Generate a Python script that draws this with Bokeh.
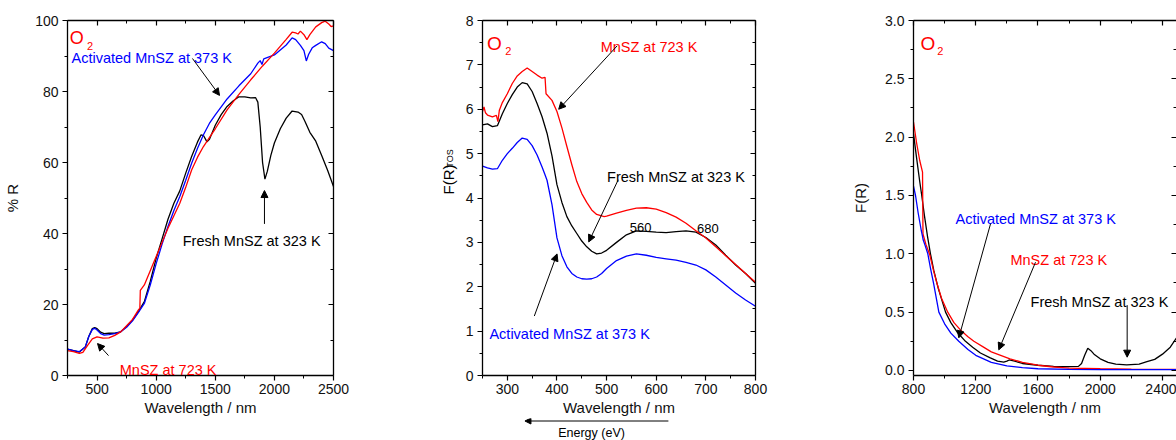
import math
from bokeh.plotting import figure
from bokeh.layouts import row, column
from bokeh.models import (LinearAxis, Range1d, FixedTicker, NumeralTickFormatter,
                          CustomJSTickFormatter, Label, Arrow, NormalHead)
from bokeh.embed import file_html
from bokeh.resources import INLINE

FONT = "Liberation Sans"
RED = "#ff0000"
BLUE = "#0000ff"
BLACK = "#000000"

# ---------------- Panel 1 : %R vs wavelength (250-2500 nm) ----------------
p1_fresh_nm = [250, 300, 350, 400, 430, 460, 480, 500, 530, 560, 600, 650, 700, 750, 800, 850, 900,
               950, 1000, 1050, 1100, 1150, 1200, 1250, 1300, 1350, 1380, 1400, 1430, 1450, 1500,
               1550, 1600, 1650, 1700, 1750, 1800, 1840, 1860, 1880, 1900, 1920, 1940, 1970, 2000,
               2050, 2100, 2150, 2200, 2230, 2260, 2300, 2350, 2400, 2450, 2500]
p1_fresh_R = [7.4, 7.0, 6.6, 8.0, 11.0, 13.2, 13.5, 13.2, 12.2, 11.8, 11.9, 11.9, 12.3, 13.8, 15.6,
              18.0, 20.8, 26.5, 33.0, 38.5, 44.0, 48.5, 52.0, 57.0, 61.7, 65.8, 67.8, 67.6, 65.8,
              66.5, 70.5, 73.5, 75.8, 77.3, 78.5, 78.5, 78.2, 78.3, 77.0, 70.0, 60.0, 55.3, 57.5,
              62.0, 65.5, 69.5, 72.5, 74.5, 74.2, 73.5, 71.5, 68.5, 66.0, 62.0, 57.8, 53.2]

p1_act_nm = [250, 300, 350, 400, 430, 460, 480, 500, 530, 560, 600, 650, 700, 750, 800, 850, 900,
             950, 1000, 1050, 1100, 1150, 1200, 1250, 1300, 1350, 1400, 1450, 1500, 1600, 1700,
             1800, 1860, 1880, 1895, 1910, 2000, 2100, 2150, 2180, 2220, 2250, 2270, 2290, 2320,
             2350, 2400, 2430, 2460, 2500]
p1_act_R = [7.4, 7.0, 6.7, 8.0, 11.0, 13.0, 13.3, 12.8, 11.8, 11.4, 11.5, 11.8, 12.3, 13.6, 15.4,
            17.8, 20.3, 25.5, 31.5, 37.0, 42.0, 46.5, 50.4, 55.0, 59.8, 64.0, 67.8, 71.0, 73.4,
            77.9, 81.6, 85.0, 88.0, 88.7, 87.6, 89.2, 90.3, 93.1, 95.1, 94.6, 93.0, 91.5, 88.6,
            90.5, 92.3, 93.0, 94.0, 93.5, 92.2, 91.5]

p1_hot_nm = [250, 300, 350, 380, 420, 460, 500, 550, 600, 650, 700, 750, 800, 850, 862, 866, 900,
             950, 1000, 1050, 1100, 1150, 1200, 1250, 1300, 1350, 1400, 1450, 1500, 1600, 1700,
             1800, 1900, 2000, 2100, 2150, 2180, 2200, 2220, 2250, 2275, 2300, 2350, 2400, 2430,
             2460, 2480, 2500]
p1_hot_R = [7.0, 6.7, 6.2, 6.5, 8.5, 10.3, 10.9, 10.5, 10.6, 11.3, 12.3, 14.0, 15.8, 18.5, 19.0,
            24.0, 25.5, 29.5, 33.5, 37.5, 41.5, 45.0, 48.5, 53.0, 57.9, 61.5, 64.5, 67.0, 69.5,
            74.8, 79.2, 83.3, 87.2, 90.8, 94.7, 96.7, 96.5, 96.2, 97.0, 96.0, 94.6, 96.0, 98.2,
            99.4, 99.8, 99.0, 98.3, 98.5]

# ---------------- Panel 2 : F(R)TOS vs wavelength (250-800 nm) ----------------
p2_fresh_nm = [250, 260, 270, 280, 290, 300, 310, 320, 330, 340, 350, 360, 370, 380, 390, 400, 410,
               420, 430, 440, 450, 460, 470, 480, 490, 500, 520, 540, 560, 580, 600, 620, 640, 660,
               680, 700, 720, 740, 760, 780, 800]
p2_fresh_F = [5.65, 5.67, 5.61, 5.63, 5.9, 6.13, 6.33, 6.5, 6.6, 6.57, 6.4, 6.13, 5.83, 5.46, 4.95,
              4.3, 3.9, 3.58, 3.37, 3.2, 3.03, 2.9, 2.8, 2.74, 2.76, 2.82, 3.0, 3.17, 3.26, 3.25,
              3.23, 3.22, 3.24, 3.26, 3.23, 3.11, 2.94, 2.71, 2.49, 2.3, 2.08]

p2_hot_nm = [250, 253, 256, 260, 270, 278, 281, 284, 290, 300, 310, 320, 330, 340, 350, 360, 370,
             376, 378, 390, 400, 410, 420, 430, 440, 450, 460, 470, 480, 495, 500, 520, 540, 560,
             580, 600, 620, 640, 660, 680, 700, 720, 740, 760, 780, 800]
p2_hot_F = [5.95, 6.05, 5.92, 5.87, 5.83, 5.86, 5.72, 5.98, 6.15, 6.35, 6.58, 6.75, 6.85, 6.93,
            6.85, 6.77, 6.7, 6.72, 6.35, 6.2, 5.95, 5.58, 5.16, 4.75, 4.37, 4.1, 3.9, 3.73, 3.63,
            3.58, 3.59, 3.66, 3.72, 3.77, 3.78, 3.75, 3.67, 3.57, 3.43, 3.26, 3.1, 2.9, 2.7, 2.5,
            2.3, 2.1]

p2_act_nm = [250, 260, 270, 280, 290, 300, 310, 320, 330, 340, 350, 360, 370, 375, 380, 390, 400,
             410, 420, 430, 440, 450, 460, 470, 480, 490, 500, 520, 540, 560, 580, 600, 620, 640,
             660, 680, 700, 720, 740, 760, 780, 800]
p2_act_F = [4.72, 4.68, 4.65, 4.66, 4.85, 5.0, 5.12, 5.25, 5.35, 5.32, 5.18, 4.97, 4.7, 4.55, 4.4,
            3.85, 3.1, 2.7, 2.45, 2.3, 2.22, 2.18, 2.17, 2.18, 2.22, 2.3, 2.41, 2.59, 2.69, 2.74,
            2.71, 2.66, 2.63, 2.6, 2.55, 2.49, 2.38, 2.22, 2.04, 1.86, 1.7, 1.56]

# ---------------- Panel 3 : F(R) vs wavelength (800-2500 nm) ----------------
p3_fresh_nm = [800, 820, 840, 853, 870, 890, 909, 930, 960, 1006, 1040, 1080, 1134, 1180, 1230,
               1290, 1340, 1380, 1400, 1415, 1450, 1500, 1600, 1700, 1800, 1860, 1880, 1900, 1920,
               1940, 1960, 2000, 2050, 2100, 2170, 2250, 2300, 2350, 2400, 2450, 2500]
p3_fresh_F = [2.03, 1.82, 1.62, 1.5, 1.33, 1.15, 1.0, 0.86, 0.7, 0.5, 0.41, 0.33, 0.25, 0.2, 0.15,
              0.11, 0.08, 0.072, 0.08, 0.09, 0.08, 0.06, 0.045, 0.035, 0.033, 0.035, 0.06, 0.13,
              0.19, 0.17, 0.14, 0.1, 0.07, 0.055, 0.048, 0.055, 0.075, 0.095, 0.14, 0.2, 0.3]

p3_hot_nm = [800, 820, 840, 858, 861, 880, 905, 930, 950, 980, 1020, 1060, 1100, 1150, 1188, 1250,
             1300, 1360, 1420, 1500, 1600, 1700, 1800, 2000, 2200, 2500]
p3_hot_F = [2.13, 1.95, 1.8, 1.70, 1.17, 1.08, 0.99, 0.85, 0.75, 0.62, 0.5, 0.41, 0.35, 0.29, 0.25,
            0.2, 0.16, 0.13, 0.1, 0.07, 0.045, 0.03, 0.02, 0.015, 0.012, 0.01]

p3_act_nm = [800, 813, 830, 850, 858, 862, 875, 892, 910, 930, 963, 1000, 1040, 1091, 1150, 1200,
             1250, 1300, 1400, 1500, 1600, 1800, 2000, 2500]
p3_act_F = [1.58, 1.5, 1.35, 1.2, 1.15, 1.12, 1.07, 1.0, 0.87, 0.74, 0.5, 0.4, 0.32, 0.25, 0.18,
            0.13, 0.1, 0.07, 0.04, 0.025, 0.015, 0.01, 0.008, 0.008]

# tick labels / positions
p1_xticks = [500, 1000, 1500, 2000, 2500]
p1_yticks = [0, 20, 40, 60, 80, 100]
p2_xticks = [300, 400, 500, 600, 700, 800]
p2_yticks = [0, 1, 2, 3, 4, 5, 6, 7, 8]
p3_xticks = [800, 1200, 1600, 2000, 2400]
p3_yticks = [0.0, 0.5, 1.0, 1.5, 2.0, 2.5, 3.0]

LABEL_FRESH = "Fresh MnSZ at 323 K"
LABEL_ACT = "Activated MnSZ at 373 K"
LABEL_HOT = "MnSZ at 723 K"


def minor_between(ticks, step, lo, hi):
    out = []
    k = math.ceil(lo / step - 1e-9)
    v = k * step
    while v <= hi + 1e-9:
        if all(abs(v - t) > 1e-9 for t in ticks):
            out.append(round(v, 6))
        k += 1
        v = k * step
    return out


def make_panel(width, height, left, right, bottom, xr, yr, xt, xstep, yt, ystep, yfmt, ylabel,
               ystandoff, right_line=True):
    p = figure(width=width, height=height, x_range=Range1d(*xr), y_range=Range1d(*yr),
               output_backend="svg", toolbar_location=None,
               min_border_left=left, min_border_right=right, min_border_top=20,
               min_border_bottom=bottom, outline_line_color=None,
               background_fill_color="white", border_fill_color="white")
    p.xgrid.visible = False
    p.ygrid.visible = False
    xtick = FixedTicker(ticks=xt, minor_ticks=minor_between(xt, xstep, xr[0], xr[1]))
    ytick = FixedTicker(ticks=yt, minor_ticks=minor_between(yt, ystep, yr[0], yr[1]))
    for ax in p.xaxis:
        ax.ticker = xtick
        ax.axis_label = "Wavelength / nm"
        ax.axis_label_standoff = 2
        ax.major_label_standoff = 3
    for ax in p.yaxis:
        ax.ticker = ytick
        ax.axis_label = ylabel
        ax.axis_label_standoff = ystandoff
        ax.major_label_standoff = 4
        if yfmt:
            ax.formatter = NumeralTickFormatter(format=yfmt)
    for ax in list(p.xaxis) + list(p.yaxis):
        ax.major_tick_out = 5
        ax.major_tick_in = 0
        ax.minor_tick_out = 3
        ax.minor_tick_in = 0
        ax.axis_line_width = 1.3
        ax.axis_line_color = BLACK
        ax.major_tick_line_color = BLACK
        ax.minor_tick_line_color = BLACK
        ax.major_tick_line_width = 1.2
        ax.major_label_text_font = FONT
        ax.major_label_text_font_size = "14px"
        ax.major_label_text_color = "#111111"
        ax.axis_label_text_font = FONT
        ax.axis_label_text_font_size = "15px"
        ax.axis_label_text_font_style = "normal"
        ax.axis_label_text_color = "#111111"
    blank = "return ''"
    top = LinearAxis(ticker=xtick, formatter=CustomJSTickFormatter(code=blank),
                     major_tick_in=5, major_tick_out=0, minor_tick_in=3, minor_tick_out=0,
                     major_label_standoff=0, axis_line_width=1.3, axis_line_color=BLACK,
                     major_tick_line_width=1.2)
    p.add_layout(top, "above")
    rt = LinearAxis(ticker=ytick, formatter=CustomJSTickFormatter(code=blank),
                    major_tick_in=5, major_tick_out=0, minor_tick_in=3, minor_tick_out=0,
                    major_label_standoff=0, axis_line_width=1.3,
                    axis_line_color=BLACK if right_line else None, major_tick_line_width=1.2)
    p.add_layout(rt, "right")
    return p


def blank_fig(width, height, xr, yr):
    """A figure without axes whose frame fills the canvas; used for texts outside a plot frame."""
    f = figure(width=width, height=height, x_range=Range1d(*xr), y_range=Range1d(*yr),
               x_axis_type=None, y_axis_type=None, output_backend="svg", toolbar_location=None,
               min_border=0, min_border_left=0, min_border_right=0, min_border_top=0,
               min_border_bottom=0, outline_line_color=None,
               background_fill_color="white", border_fill_color="white")
    return f


def txt(p, x, y, s, color=BLACK, size="14.5px", align="left", baseline="alphabetic", angle=0.0):
    p.add_layout(Label(x=x, y=y, text=s, text_color=color, text_font=FONT,
                       text_font_size=size, text_align=align, text_baseline=baseline,
                       angle=angle))


def arrow(p, x0, y0, x1, y1, size=7):
    p.add_layout(Arrow(x_start=x0, y_start=y0, x_end=x1, y_end=y1, line_width=1,
                       line_color=BLACK,
                       end=NormalHead(size=size, fill_color=BLACK, line_color=BLACK,
                                      line_width=1)))


def o2(p, x, y, x2, y2, size):
    txt(p, x, y, "O", RED, size)
    txt(p, x2, y2, "2", RED, "11px")


LW = 1.3

# ---- panel 1
p1 = make_panel(400, 440, 67, 67, 65, (250, 2500), (0, 100), p1_xticks, 250, p1_yticks, 10,
                None, "% R", 11)
p1.line(p1_fresh_nm, p1_fresh_R, line_color=BLACK, line_width=LW)
p1.line(p1_act_nm, p1_act_R, line_color=BLUE, line_width=LW)
p1.line(p1_hot_nm, p1_hot_R, line_color=RED, line_width=LW)
o2(p1, 269, 95.1, 416, 92.8, "18px")
txt(p1, 284, 89.4, LABEL_ACT, BLUE)
arrow(p1, 1307, 89.3, 1536, 78.9)
txt(p1, 1225, 37.8, LABEL_FRESH, BLACK)
arrow(p1, 1916, 42.7, 1916, 52.1)
txt(p1, 692, 1.6, LABEL_HOT, RED)
arrow(p1, 597, 5.6, 504, 9.0)

# ---- y-axis title of panel 2 (F(R) with subscript TOS), in its own strip
# strip coordinates: x = page pixel, y = pixels above the page bottom
ylab2 = blank_fig(62, 440, (400, 462), (0, 440))
txt(ylab2, 447.5, 243, "F(R)", BLACK, "15px", align="center", baseline="middle",
    angle=math.pi / 2)
txt(ylab2, 449.5, 269, "TOS", BLACK, "9px", align="center", baseline="middle",
    angle=math.pi / 2)

# ---- panel 2
p2 = make_panel(373, 418, 20, 80, 43, (250, 800), (0, 8), p2_xticks, 50, p2_yticks, 0.5,
                None, None, 5)
p2.line(p2_fresh_nm, p2_fresh_F, line_color=BLACK, line_width=LW)
p2.line(p2_hot_nm, p2_hot_F, line_color=RED, line_width=LW)
p2.line(p2_act_nm, p2_act_F, line_color=BLUE, line_width=LW)
o2(p2, 259, 7.49, 296, 7.32, "19px")
txt(p2, 488, 7.41, LABEL_HOT, RED)
arrow(p2, 521.4, 7.43, 403.5, 6.0)
txt(p2, 501, 4.48, LABEL_FRESH, BLACK)
arrow(p2, 523.4, 4.41, 464, 3.01)
txt(p2, 568.5, 3.34, "560", BLACK, "13px", align="center")
txt(p2, 704, 3.32, "680", BLACK, "13px", align="center")
txt(p2, 264, 0.93, LABEL_ACT, BLUE)
arrow(p2, 354.4, 1.34, 400.2, 2.74)

# ---- energy arrow under panel 2 (x = page pixel, y = pixels above the page bottom)
en2 = blank_fig(373, 22, (462, 835), (0, 22))
arrow(en2, 716, 19.5, 520, 19.5, size=6)
txt(en2, 611, 14.5, "Energy (eV)", BLACK, "12.5px", align="center", baseline="top")

# ---- panel 3
p3 = make_panel(341, 440, 78, 0, 65, (800, 2490), (-0.043, 3.0), p3_xticks, 200, p3_yticks, 0.25,
                "0.0", "F(R)", 13, right_line=False)
p3.line(p3_fresh_nm, p3_fresh_F, line_color=BLACK, line_width=LW)
p3.line(p3_hot_nm, p3_hot_F, line_color=RED, line_width=LW)
p3.line(p3_act_nm, p3_act_F, line_color=BLUE, line_width=LW)
o2(p3, 845, 2.80, 952, 2.737, "19px")
txt(p3, 1070, 1.30, LABEL_ACT, BLUE)
arrow(p3, 1295, 1.257, 1091, 0.28)
txt(p3, 1423, 0.949, LABEL_HOT, RED)
arrow(p3, 1584, 0.928, 1348, 0.177)
txt(p3, 1552, 0.585, LABEL_FRESH, BLACK)
arrow(p3, 2173, 0.56, 2173, 0.114)

layout = row(p1, ylab2, column(p2, en2), p3)
open("out.html", "w").write(file_html(layout, INLINE))
